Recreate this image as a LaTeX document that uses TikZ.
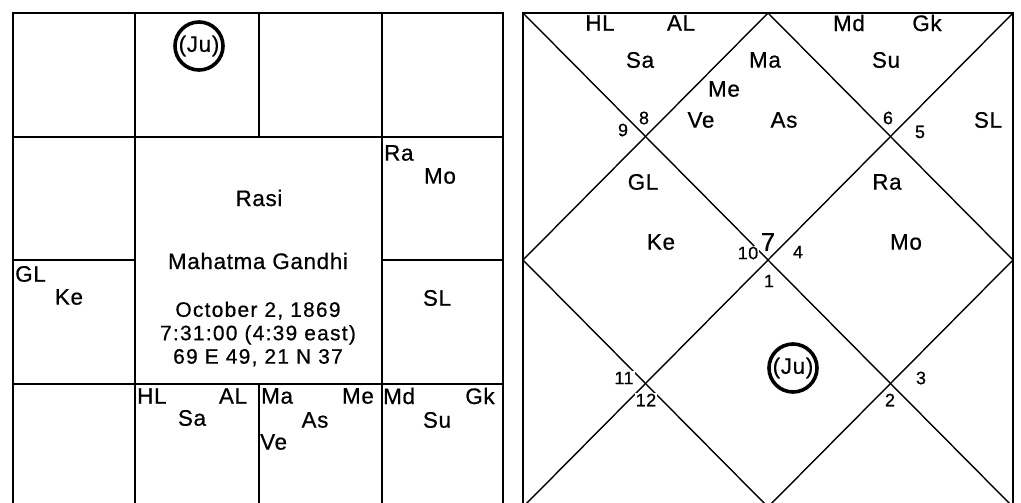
\documentclass[tikz,border=0pt]{standalone}
\usepackage{fontspec}
\setmainfont{Liberation Sans}[LetterSpace=3,FakeBold=0.6]
\newfontfamily\datefont{Liberation Sans}[LetterSpace=6,FakeBold=0.6]
\begin{document}
\begin{tikzpicture}[x=1bp,y=-1bp,
    lbl/.style={font=\fontsize{22.5}{22.5}\selectfont,inner sep=0pt},
    num/.style={font=\fontsize{18}{18}\selectfont,inner sep=1pt,fill=white},
    bignum/.style={font=\fontsize{26}{26}\selectfont,inner sep=0pt},
    ringed/.style={lbl,draw,circle,line width=3.6bp,minimum size=48bp},
    box/.style={line width=1.4bp},
    rim/.style={line width=2.6bp}]
  \useasboundingbox[fill=white] (0,0) rectangle (1021,503);
  \clip (0,0) rectangle (1021,503);
  \draw[box]
    (135,13) -- (135,507)
    (382,13) -- (382,507)
    (259,13) -- (259,137)
    (259,384) -- (259,507)
    (13,137) -- (503,137)
    (13,384) -- (503,384)
    (13,260) -- (135,260)
    (382,260) -- (503,260);
  \draw[rim] (13,13) rectangle (503,507);
  \node[ringed] (ju1) at (199,46) {(Ju)};
  \node[lbl,anchor=west] (ra1) at (384,153) {Ra};
  \node[lbl] (mo1) at (440,176) {Mo};
  \node[lbl] (rasi) at (259,198) {Rasi};
  \node[lbl] (native) at (258,261) {Mahatma Gandhi};
  \node[lbl,align=center,font=\datefont\fontsize{21}{23.5}\selectfont] (birth) at (258,334)
    {October 2, 1869\\7:31:00 (4:39 east)\\69 E 49, 21 N 37};
  \node[lbl,anchor=west] (gl1) at (15,274) {GL};
  \node[lbl] (ke1) at (69,297) {Ke};
  \node[lbl] (sl1) at (437,298) {SL};
  \node[lbl,anchor=west] (hl1) at (137,396) {HL};
  \node[lbl] (al1) at (233,396) {AL};
  \node[lbl] (sa1) at (192,418) {Sa};
  \node[lbl,anchor=west] (ma1) at (261,396) {Ma};
  \node[lbl] (me1) at (358,396) {Me};
  \node[lbl] (as1) at (315,420) {As};
  \node[lbl,anchor=west] (ve1) at (260,442) {Ve};
  \node[lbl,anchor=west] (md1) at (383,396) {Md};
  \node[lbl] (gk1) at (480,396) {Gk};
  \node[lbl] (su1) at (437,420) {Su};
  \path
    (523,13) coordinate (nw)
    (768,13) coordinate (n)
    (1013,13) coordinate (ne)
    (1013,260) coordinate (e)
    (1013,507) coordinate (se)
    (768,507) coordinate (s)
    (523,507) coordinate (sw)
    (523,260) coordinate (w);
  \begin{scope}[box]
    \draw (nw) to (se);
    \draw (ne) to (sw);
    \draw (n) to (w);
    \draw (w) to (s);
    \draw (s) to (e);
    \draw (e) to (n);
  \end{scope}
  \draw[rim] (nw) rectangle (se);
  \node[lbl] (hl2) at (600,23) {HL};
  \node[lbl] (al2) at (681,23) {AL};
  \node[lbl] (sa2) at (640,60) {Sa};
  \node[lbl] (ma2) at (765,60) {Ma};
  \node[lbl] (me2) at (724,89) {Me};
  \node[lbl] (ve2) at (701,120) {Ve};
  \node[lbl] (as2) at (784,120) {As};
  \node[lbl] (md2) at (849,23) {Md};
  \node[lbl] (gk2) at (927,23) {Gk};
  \node[lbl] (su2) at (886,60) {Su};
  \node[lbl] (sl2) at (988,120) {SL};
  \node[lbl] (gl2) at (643,182) {GL};
  \node[lbl] (ra2) at (887,182) {Ra};
  \node[lbl] (ke2) at (661,242) {Ke};
  \node[lbl] (mo2) at (906,242) {Mo};
  \node[ringed] (ju2) at (793,368) {(Ju)};
  \node[bignum] (h7) at (768,242) {7};
  \node[num] (h10) at (748,253) {10};
  \node[num] (h4) at (798,252) {4};
  \node[num] (h1) at (769,281) {1};
  \node[num] (h9) at (623,130) {9};
  \node[num] (h8) at (644,118) {8};
  \node[num] (h6) at (888,118) {6};
  \node[num] (h5) at (920,132) {5};
  \node[num] (h11) at (624,378) {11};
  \node[num] (h12) at (646,400) {12};
  \node[num] (h3) at (921,378) {3};
  \node[num] (h2) at (890,400) {2};
\end{tikzpicture}
\end{document}
